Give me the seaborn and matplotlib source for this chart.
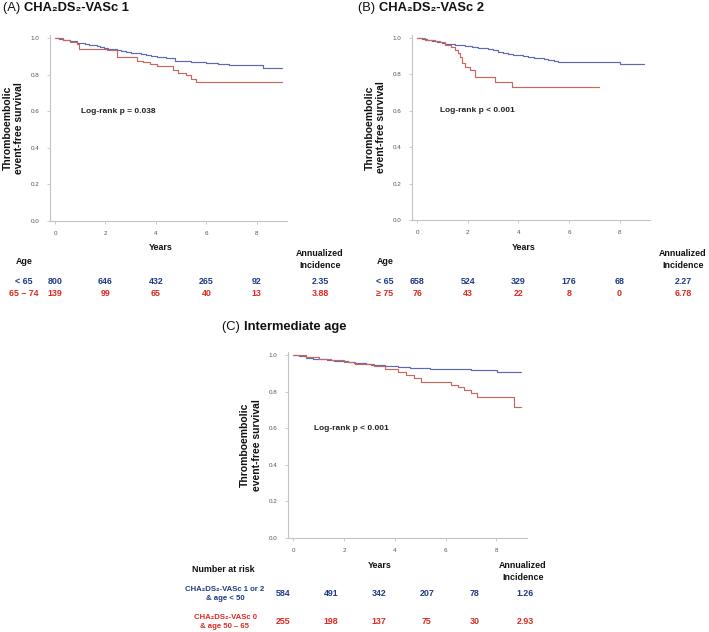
import matplotlib
matplotlib.use("Agg")
import matplotlib.pyplot as plt
import matplotlib.transforms as mtransforms
import seaborn as sns
import pandas as pd

# --- data ---
# Panel A: CHA2DS2-VASc 1
a_blue_t = [0, 0.15, 0.3, 0.45, 0.6, 0.86, 1.05, 1.2, 1.35, 1.5, 1.65, 1.78, 1.95, 2.1, 2.25, 2.44, 2.6, 2.8, 3.0,
            3.23, 3.4, 3.6, 3.8, 4.03, 4.2, 4.4, 4.75, 5.1, 5.4, 5.74, 6.0, 6.2, 6.45, 6.67, 6.9, 7.2, 8.25, 9.0]
a_blue_s = [1.0, 0.995, 0.99, 0.986, 0.982, 0.975, 0.971, 0.967, 0.964, 0.96, 0.955, 0.951, 0.946, 0.942, 0.938,
            0.933, 0.929, 0.925, 0.92, 0.915, 0.91, 0.905, 0.9, 0.896, 0.894, 0.89, 0.876, 0.873, 0.87, 0.866,
            0.864, 0.861, 0.858, 0.856, 0.853, 0.851, 0.836, 0.836]
a_red_t = [0, 0.3, 0.6, 0.86, 0.96, 1.6, 2.05, 2.44, 3.26, 3.5, 3.76, 4.03, 4.69, 4.88, 5.2, 5.4, 5.6, 9.0]
a_red_s = [1.0, 0.99, 0.978, 0.969, 0.942, 0.938, 0.933, 0.896, 0.875, 0.868, 0.86, 0.847, 0.824, 0.81, 0.796,
           0.778, 0.76, 0.76]

# Panel B: CHA2DS2-VASc 2
b_blue_t = [0, 0.2, 0.4, 0.6, 0.8, 1.0, 1.12, 1.3, 1.5, 1.7, 1.9, 2.15, 2.4, 2.6, 2.82, 3.0, 3.2, 3.4, 3.6, 3.8,
            4.0, 4.2, 4.4, 4.6, 4.8, 5.0, 5.18, 5.4, 5.58, 8.0, 8.95]
b_blue_s = [1.0, 0.995, 0.99, 0.984, 0.978, 0.971, 0.967, 0.965, 0.962, 0.959, 0.956, 0.951, 0.947, 0.942, 0.938,
            0.932, 0.925, 0.918, 0.912, 0.908, 0.904, 0.9, 0.897, 0.892, 0.888, 0.884, 0.879, 0.874, 0.866, 0.855,
            0.855]
b_red_t = [0, 0.3, 0.72, 0.9, 1.12, 1.35, 1.5, 1.6, 1.68, 1.77, 1.9, 2.1, 2.3, 3.08, 3.74, 7.19]
b_red_s = [1.0, 0.99, 0.985, 0.975, 0.962, 0.95, 0.934, 0.915, 0.897, 0.86, 0.843, 0.824, 0.788, 0.76, 0.729, 0.729]

# Panel C: intermediate age
c_blue_t = [0, 0.25, 0.5, 0.8, 1.11, 1.35, 1.6, 1.9, 2.16, 2.4, 2.6, 2.85, 3.07, 3.3, 3.6, 3.85, 4.12, 4.4, 4.6,
            4.9, 5.16, 5.4, 5.7, 6.0, 6.34, 7.0, 8.01, 8.95]
c_blue_s = [1.0, 0.992, 0.985, 0.98, 0.976, 0.972, 0.968, 0.965, 0.962, 0.958, 0.955, 0.951, 0.947, 0.944, 0.94,
            0.938, 0.936, 0.933, 0.931, 0.928, 0.926, 0.925, 0.923, 0.922, 0.921, 0.92, 0.909, 0.909]
c_red_t = [0, 0.5, 1.0, 1.5, 2.0, 2.42, 3.2, 3.6, 4.12, 4.44, 4.75, 5.03, 6.2, 6.47, 6.73, 7.0, 7.25, 8.69, 8.95]
c_red_s = [1.0, 0.988, 0.98, 0.973, 0.96, 0.948, 0.94, 0.925, 0.909, 0.89, 0.872, 0.85, 0.836, 0.823, 0.81, 0.793,
           0.772, 0.714, 0.714]

# risk tables
risk_years = [0, 2, 4, 6, 8]
a_groups = ["< 65", "65 – 74"]
a_at_risk = [[800, 646, 432, 265, 92], [139, 99, 65, 40, 13]]
a_incidence = ["2.35", "3.88"]
b_groups = ["< 65", "≥ 75"]
b_at_risk = [[658, 524, 329, 176, 68], [76, 43, 22, 8, 0]]
b_incidence = ["2.27", "6.78"]
c_groups = ["CHA₂DS₂-VASc 1 or 2\n& age < 50", "CHA₂DS₂-VASc 0\n& age 50 – 65"]
c_at_risk = [[584, 491, 342, 207, 78], [255, 198, 137, 75, 30]]
c_incidence = ["1.26", "2.93"]

p_values = ["Log-rank p = 0.038", "Log-rank p < 0.001", "Log-rank p < 0.001"]

LINE_BLUE = "#5b6bb3"
LINE_RED = "#c8675c"
TXT_BLUE = "#1f3a86"
TXT_RED = "#dd2a22"

sns.set_style("white")
plt.rcParams["font.family"] = ["Liberation Sans", "DejaVu Sans"]

W, H = 709, 632
fig = plt.figure(figsize=(W / 100, H / 100), dpi=100)
# pixel coordinates measured from the top-left corner
fig_px = mtransforms.Affine2D().scale(1 / W, -1 / H).translate(0, 1) + fig.transFigure


def rect(x0, y0, x1, y1):
    return [x0 / W, 1 - y1 / H, (x1 - x0) / W, (y1 - y0) / H]


def km_panel(ax, bt, bs, rt, rs, ptext, px_x):
    df = pd.concat([
        pd.DataFrame({"t": bt, "s": bs, "g": "blue"}),
        pd.DataFrame({"t": rt, "s": rs, "g": "red"}),
    ])
    sns.lineplot(data=df, x="t", y="s", hue="g", palette={"blue": LINE_BLUE, "red": LINE_RED},
                 drawstyle="steps-post", estimator=None, legend=False, lw=0.85, ax=ax)
    ax.set_xlim(-0.2, 9.2)
    ax.set_ylim(0, 1.016)
    ax.set_xticks([0, 2, 4, 6, 8])
    ax.set_yticks([0, 0.2, 0.4, 0.6, 0.8, 1.0])
    ax.set_yticklabels([f"{v:.1f}" for v in [0, 0.2, 0.4, 0.6, 0.8, 1.0]])
    ax.set_xlabel("")
    ax.set_ylabel("")
    for side in ["top", "right"]:
        ax.spines[side].set_visible(False)
    for side in ["left", "bottom"]:
        ax.spines[side].set_color("#c4c4c4")
        ax.spines[side].set_linewidth(0.8)
    ax.tick_params(axis="both", labelsize=4.5, colors="#c4c4c4", labelcolor="#555555",
                   length=2.5, width=0.6, pad=5, bottom=True, left=True)
    ax.text(px_x, 0.6, ptext, fontsize=6, fontweight="bold", va="center", color="#222222")
    ax.text(-0.155, 0.5, "Thromboembolic\nevent-free survival", transform=ax.transAxes,
            rotation=90, ha="center", va="center", fontsize=7.5, fontweight="bold",
            multialignment="center", linespacing=1.15, color="#111111")


axA = fig.add_axes(rect(50, 35, 287, 221))
axB = fig.add_axes(rect(412, 35, 650, 220))
axC = fig.add_axes(rect(288, 352, 527, 538))
km_panel(axA, a_blue_t, a_blue_s, a_red_t, a_red_s, p_values[0], 1.03)
km_panel(axB, b_blue_t, b_blue_s, b_red_t, b_red_s, p_values[1], 0.9)
km_panel(axC, c_blue_t, c_blue_s, c_red_t, c_red_s, p_values[2], 0.82)

# panel titles
for (x, y, letter, name) in [(3, 8, "(A)", "CHA₂DS₂-VASc 1"), (358, 8, "(B)", "CHA₂DS₂-VASc 2"),
                             (222, 327, "(C)", "Intermediate age")]:
    t = fig.text(x, y, letter + " ", transform=fig_px, fontsize=9.3, va="center", color="#111111")
    fig.canvas.draw()
    bb = t.get_window_extent()
    fig.text(bb.x1 / W, 1 - y / H, name, fontsize=9.3, fontweight="bold", va="center", color="#111111")

bold = dict(fontsize=6.4, fontweight="bold", ha="center", va="center")


def side_table(ax, label_x, inc_x, groups, at_risk, incidence):
    tr = mtransforms.blended_transform_factory(ax.transData, fig_px)
    ax.text(4.2, 247, "Years", transform=tr, color="#111111", **bold)
    fig.text(label_x, 262, "Age", transform=fig_px, color="#111111", **bold)
    fig.text(inc_x, 254, "Annualized", transform=fig_px, color="#111111", **bold)
    fig.text(inc_x, 265, "Incidence", transform=fig_px, color="#111111", **bold)
    for i, (grp, row, inc) in enumerate(zip(groups, at_risk, incidence)):
        y = 281 + 12 * i
        col = TXT_BLUE if i == 0 else TXT_RED
        fig.text(label_x, y, grp, transform=fig_px, color=col, **bold)
        for yr, n in zip(risk_years, row):
            ax.text(yr, y, str(n), transform=tr, color=col, clip_on=False, **bold)
        fig.text(inc_x, y, inc, transform=fig_px, color=col, **bold)


side_table(axA, 24, 320, a_groups, a_at_risk, a_incidence)
side_table(axB, 385, 683, b_groups, b_at_risk, b_incidence)

# panel C table: columns are spaced independently of the axis
fig.text(223, 570, "Number at risk", transform=fig_px, color="#111111", **bold)
fig.text(380, 566, "Years", transform=fig_px, color="#111111", **bold)
fig.text(523, 566, "Annualized", transform=fig_px, color="#111111", **bold)
fig.text(523, 577, "Incidence", transform=fig_px, color="#111111", **bold)
for i, (grp, row, inc) in enumerate(zip(c_groups, c_at_risk, c_incidence)):
    y = 594 + 28 * i
    col = TXT_BLUE if i == 0 else TXT_RED
    fig.text(225, y, grp, transform=fig_px, color=col, linespacing=1.4, multialignment="center",
             fontsize=5.6, fontweight="bold", ha="center", va="center")
    for j, n in enumerate(row):
        fig.text(283 + 48 * j, y, str(n), transform=fig_px, color=col, **bold)
    fig.text(525, y, inc, transform=fig_px, color=col, **bold)

fig.savefig("out.png", dpi=100)
